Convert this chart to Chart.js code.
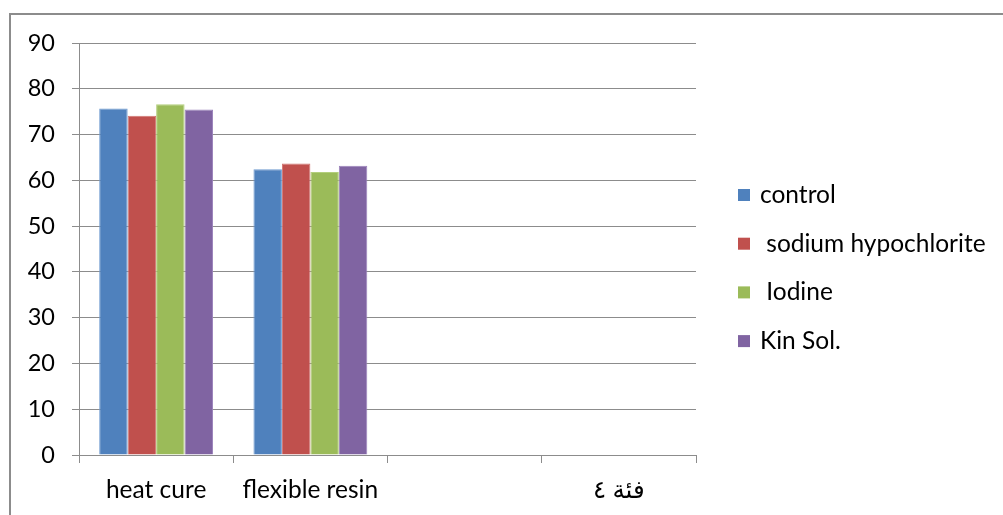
<!DOCTYPE html>
<html>
<head>
<meta charset="utf-8">
<script src="https://cdn.jsdelivr.net/npm/chart.js@4"></script>
<style>
  html, body { margin: 0; padding: 0; background: #fff; overflow: hidden; }
  #frame {
    position: absolute; left: 9px; top: 13px;
    width: 1000px; height: 510px;
    border: 2px solid #8c8c8c; background: #fff;
  }
  #chart { display: block; }
</style>
</head>
<body>
<div id="frame"><canvas id="chart" width="1000" height="500"></canvas></div>
<script>
const categories = ["heat cure", "flexible resin", "", "فئة ٤"];
const seriesNames = ["control", " sodium hypochlorite", " Iodine", "Kin Sol."];
const control = [75.7, 62.4, null, null];
const sodiumHypochlorite = [74.1, 63.7, null, null];
const iodine = [76.6, 61.8, null, null];
const kinSol = [75.5, 63.2, null, null];
const yTicks = [0, 10, 20, 30, 40, 50, 60, 70, 80, 90];

const colors = ['#4F81BD', '#C0504D', '#9BBB59', '#8064A2'];
const edges = ['#6f9ad0', '#d27572', '#b3cf7c', '#9a82bb'];
const FONT = 'Lato, "DejaVu Sans", sans-serif';

const seriesValues = [control, sodiumHypochlorite, iodine, kinSol];

// legend drawn by hand so it sits where the original one does
const sideLegend = {
  id: 'sideLegend',
  afterDraw(chart) {
    const ctx = chart.ctx;
    ctx.save();
    ctx.font = '24.5px ' + FONT;
    ctx.textBaseline = 'middle';
    chart.data.datasets.forEach((ds, i) => {
      const y = 180 + i * 48.7;
      ctx.fillStyle = ds.backgroundColor;
      ctx.fillRect(727, y - 6, 12, 12);
      ctx.fillStyle = '#000';
      ctx.fillText(ds.label, 749, y);
    });
    ctx.restore();
  }
};

new Chart(document.getElementById('chart'), {
  type: 'bar',
  data: {
    labels: categories,
    datasets: seriesNames.map((name, i) => ({
      label: name,
      data: seriesValues[i],
      backgroundColor: colors[i],
      borderColor: edges[i],
      borderWidth: 1,
      categoryPercentage: 0.738,
      barPercentage: 1
    }))
  },
  options: {
    responsive: false,
    animation: false,
    layout: { padding: { top: 28, right: 315, bottom: 0, left: 0 } },
    plugins: {
      legend: { display: false },
      tooltip: { enabled: false }
    },
    scales: {
      x: {
        afterFit(scale) { scale.height = 60; },
        grid: {
          offset: true,
          drawOnChartArea: false,
          drawTicks: true,
          tickLength: 8,
          color: '#8c8c8c'
        },
        border: { color: '#8c8c8c', width: 1 },
        ticks: {
          padding: 12,
          color: '#000',
          font: { family: FONT, size: 24.5 }
        }
      },
      y: {
        min: 0,
        max: 90,
        afterFit(scale) {
          scale.width = 68;
          scale.paddingTop = 0;
          scale.paddingBottom = 0;
        },
        afterBuildTicks(scale) { scale.ticks = yTicks.map(v => ({ value: v })); },
        grid: {
          color: '#8c8c8c',
          tickLength: 7
        },
        border: { color: '#8c8c8c', width: 1 },
        ticks: {
          padding: 17,
          color: '#000',
          font: { family: FONT, size: 23.5 }
        }
      }
    }
  },
  plugins: [sideLegend]
});
</script>
</body>
</html>
